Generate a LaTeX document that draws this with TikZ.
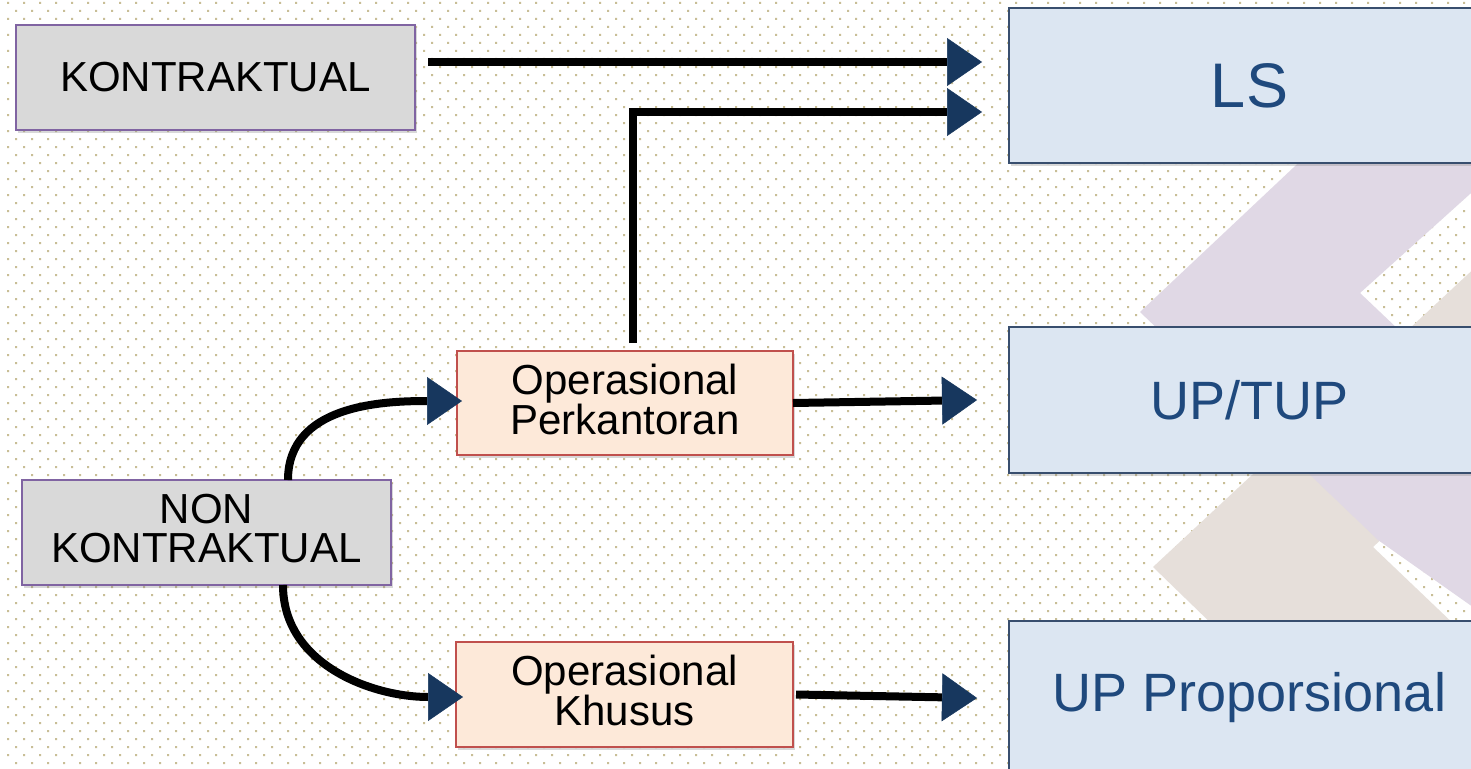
\documentclass[tikz,border=0pt]{standalone}
\usepackage{fontspec}
\setmainfont{Liberation Sans}
\usetikzlibrary{arrows.meta,shadows,calc}
\definecolor{dotc}{RGB}{200,190,150}
\definecolor{chevp}{RGB}{224,216,229}
\definecolor{chevb}{RGB}{230,223,218}
\definecolor{grayfill}{RGB}{217,217,217}
\definecolor{grayline}{RGB}{128,100,162}
\definecolor{peachfill}{RGB}{253,233,217}
\definecolor{peachline}{RGB}{192,80,77}
\definecolor{bluefill}{RGB}{220,230,242}
\definecolor{blueline}{RGB}{56,78,110}
\definecolor{bluetext}{RGB}{31,73,125}
\definecolor{tipc}{RGB}{23,55,94}
\begin{document}
\begin{tikzpicture}[x=1pt,y=-1pt,
  boxbase/.style={draw, anchor=north west, inner sep=0pt, outer sep=0pt, align=center,
     drop shadow={shadow xshift=2pt,shadow yshift=-3pt,opacity=0.3}},
  graybox/.style={boxbase, fill=grayfill, draw=grayline, line width=2pt, font=\fontsize{42}{38.5}\selectfont},
  peachbox/.style={boxbase, fill=peachfill, draw=peachline, line width=2pt, font=\fontsize{42}{39}\selectfont},
  twoline/.style={text depth=8pt},
  bluebox/.style={boxbase, fill=bluefill, draw=blueline, line width=2.5pt, text=bluetext, minimum width=481pt, font=\fontsize{54}{60}\selectfont},
  conn/.style={line width=8pt, -{Triangle[length=35pt,width=48pt,color=tipc,line width=0.5pt]}}
]
\useasboundingbox (0,0) rectangle (1471,768);
\clip (0,0) rectangle (1471,768);
\fill[white] (0,0) rectangle (1471,768);
% dotted background
\foreach \j in {0,...,47}{
  \fill[dotc] \foreach \i in {0,...,91}{ ({7+16*\i},{2+16*\j}) rectangle ++(2,2) ({15+16*\i},{10+16*\j}) rectangle ++(2,2) };
}
% decorative chevrons
\fill[chevb] (1153,567) -- (1480,263) -- (1480,447) -- (1373,547) -- (1460,630) -- (1218,630) -- cycle;
\fill[chevp] (1140,312) -- (1310,152) -- (1480,152) -- (1480,185) -- (1360,293) -- (1480,407) -- (1480,612) -- (1378,540) -- cycle;
% boxes
\node[graybox, minimum width=399pt, minimum height=105pt] (kon) at (16,25) {KONTRAKTUAL};
\node[graybox, twoline, minimum width=369pt, minimum height=105pt] (nonk) at (22,480) {NON\\KONTRAKTUAL};
\node[peachbox, twoline, minimum width=336pt, minimum height=104pt] (opp) at (457,351) {Operasional\\Perkantoran};
\node[peachbox, twoline, minimum width=337pt, minimum height=105pt] (opk) at (456,642) {Operasional\\Khusus};
\node[bluebox, minimum height=155pt, font=\fontsize{63}{70}\selectfont] (ls) at (1009,8) {LS};
\node[bluebox, minimum height=146pt] (upt) at (1009,327) {UP/TUP};
\node[bluebox, minimum height=154pt] (upp) at (1009,621) {UP Proporsional};
% connectors
\draw[conn] ([shift={(13pt,15.5pt)}]kon.east) -- ([shift={(-27pt,23.5pt)}]ls.west);
\draw[conn] ([shift={(8pt,8pt)}]opp.north) |- ([shift={(-27pt,-26.5pt)}]ls.west);
\draw[conn] (opp.east) -- ([xshift=-32pt]upt.west);
\draw[conn] ([xshift=3pt]opk.east) -- ([xshift=-32pt]upp.west);
\coordinate (s5) at ([xshift=81.5pt]nonk.north);
\coordinate (e5) at ([shift={(5pt,2pt)}]opp.west);
\draw[conn] (s5) .. controls ($(s5)+(0,-75)$) and ($(e5)+(-80,0)$) .. (e5);
\coordinate (s6) at ([xshift=76.5pt]nonk.south);
\coordinate (e6) at ([shift={(7pt,-2.5pt)}]opk.west);
\draw[conn] (s6) .. controls ($(s6)+(0,80)$) and ($(e6)+(-90,0)$) .. (e6);
\end{tikzpicture}
\end{document}
